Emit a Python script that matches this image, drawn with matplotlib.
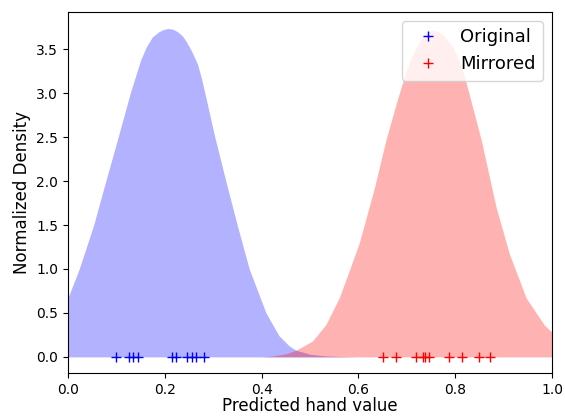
import matplotlib
matplotlib.use('Agg')
import matplotlib.pyplot as plt

# rug points (predicted hand values)
original = [0.0986, 0.1262, 0.1344, 0.1455, 0.2158, 0.2227, 0.2468, 0.2558, 0.2641, 0.2813]
mirrored = [0.650, 0.678, 0.719, 0.733, 0.738, 0.745, 0.788, 0.814, 0.850, 0.872]

# density curves
blue_x = [0.0, 0.0228, 0.0524, 0.078, 0.102, 0.1296, 0.1503, 0.162, 0.1744, 0.1882,
          0.198, 0.2075, 0.217, 0.226, 0.2365, 0.245, 0.256, 0.2675, 0.276, 0.2848,
          0.302, 0.326, 0.350, 0.3744, 0.409, 0.436, 0.457, 0.471, 0.50, 0.53,
          0.56, 0.6, 1.0]
blue_y = [0.674, 0.996, 1.49, 2.0, 2.47, 3.02, 3.38, 3.53, 3.64, 3.70,
          3.725, 3.735, 3.725, 3.70, 3.65, 3.58, 3.47, 3.33, 3.16, 2.95,
          2.53, 2.0, 1.49, 1.0, 0.50, 0.24, 0.125, 0.076, 0.03, 0.012,
          0.005, 0.0, 0.0]

red_x = [0.0, 0.40, 0.4226, 0.45, 0.471, 0.505, 0.533, 0.5605, 0.581, 0.6019,
         0.6329, 0.657, 0.678, 0.698, 0.7156, 0.735, 0.745, 0.7535, 0.765, 0.775,
         0.795, 0.807, 0.819, 0.8397, 0.8536, 0.8846, 0.912, 0.9466, 0.9845, 1.0]
red_y = [0.0, 0.0, 0.01, 0.035, 0.076, 0.18, 0.37, 0.674, 0.98, 1.30,
         1.92, 2.47, 2.88, 3.24, 3.48, 3.66, 3.70, 3.71, 3.70, 3.66,
         3.53, 3.38, 3.19, 2.76, 2.47, 1.70, 1.17, 0.67, 0.36, 0.28]

fig, ax = plt.subplots(figsize=(5.65, 4.16), dpi=100)
fig.subplots_adjust(left=0.1204, right=0.977, top=0.971, bottom=0.1026)

ax.fill_between(blue_x, blue_y, color='b', alpha=0.3, lw=0)
ax.fill_between(red_x, red_y, color='r', alpha=0.3, lw=0)
ax.plot(original, [0] * len(original), '+', color='b', ms=7, label='Original')
ax.plot(mirrored, [0] * len(mirrored), '+', color='r', ms=7, label='Mirrored')

ax.set_xlim(0, 1)
ax.set_xlabel('Predicted hand value', fontsize=12, labelpad=0)
ax.set_ylabel('Normalized Density', fontsize=12)
ax.legend(loc='upper right', fontsize=13)

fig.savefig('out.png')
